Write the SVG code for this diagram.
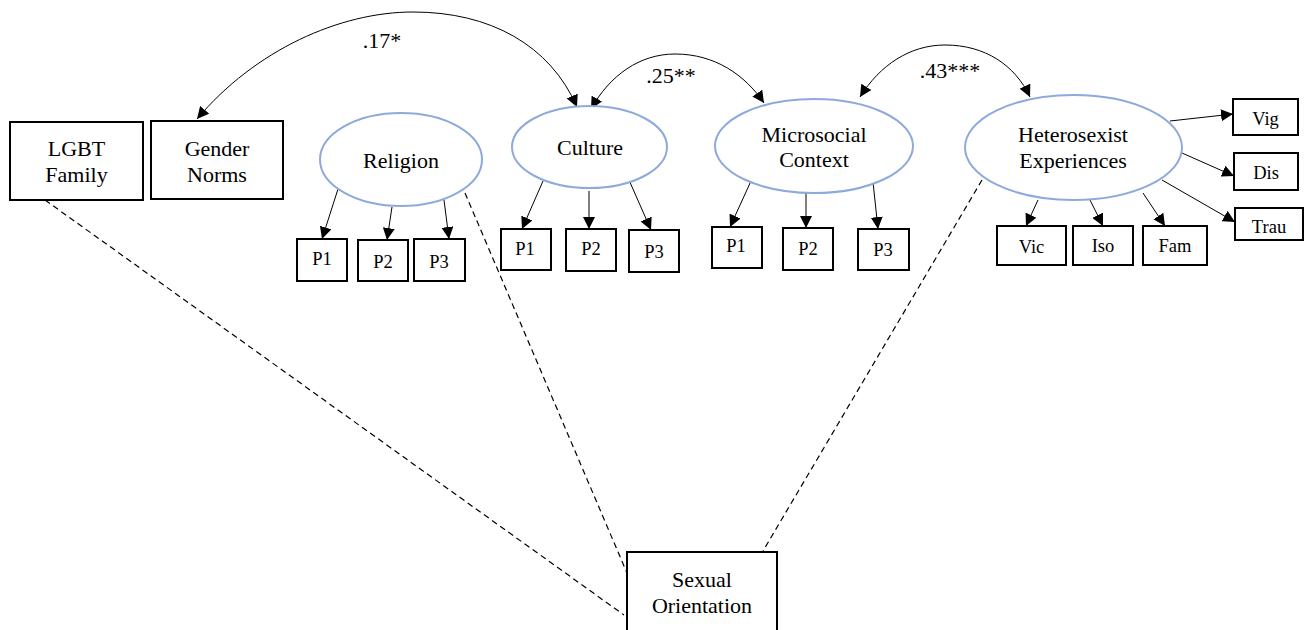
<svg xmlns="http://www.w3.org/2000/svg" width="1306" height="630" viewBox="0 0 1306 630">
<style>
.box{fill:#fff;stroke:#000;stroke-width:2}
.lat{fill:#fff;stroke:#8eaadb;stroke-width:2}
.t{font-family:"Liberation Serif","Times New Roman",serif;font-size:22px;fill:#000;text-anchor:middle}
.s{font-family:"Liberation Serif","Times New Roman",serif;font-size:18.5px;fill:#000;text-anchor:middle}
.c{fill:none;stroke:#000;stroke-width:1}
.a{fill:none;stroke:#000;stroke-width:1;marker-end:url(#ah)}
.cv{fill:none;stroke:#000;stroke-width:1;marker-start:url(#ah);marker-end:url(#ah)}
.d{fill:none;stroke:#000;stroke-width:1.2;stroke-dasharray:6,4}
</style>
<defs>
<marker id="ah" viewBox="0 0 10 10" refX="10" refY="5" markerWidth="12" markerHeight="12" markerUnits="userSpaceOnUse" orient="auto-start-reverse">
<path d="M0,0 L10,5 L0,10 z" fill="#000"/>
</marker>
</defs>
<rect width="1306" height="630" fill="#fff"/>
<g id="connectors">
<path class="d" d="M45,200 L624,615"/>
<path class="d" d="M465,193 L627,573"/>
<path class="d" d="M982,180 L763,551"/>
<path class="cv" d="M197,119 C255,50 340,12 413,12 C490,12 550,45 577,107"/>
<path class="cv" d="M591,109 C610,75 640,54 675,54 C715,54 745,75 764,103"/>
<path class="cv" d="M860,97 C880,65 910,45 945,45 C985,45 1015,65 1030,97"/>
<path class="a" d="M338,189 L322,239"/>
<path class="a" d="M392,207 L387,240"/>
<path class="a" d="M444,200 L449,239"/>
<path class="a" d="M543,181 L522,229"/>
<path class="a" d="M589,191 L589,229"/>
<path class="a" d="M629,180 L651,230"/>
<path class="a" d="M751,181 L730,227"/>
<path class="a" d="M806,193 L806,228"/>
<path class="a" d="M873,182 L878,229"/>
<path class="a" d="M1170,121 L1233,114"/>
<path class="a" d="M1182,153 L1234,176"/>
<path class="a" d="M1162,180 L1235,222"/>
<path class="a" d="M1038,200 L1026,226"/>
<path class="a" d="M1090,200 L1103,226"/>
<path class="a" d="M1143,193 L1165,226"/>
<text class="t" x="382" y="48" font-size="21">.17*</text>
<text class="t" x="671" y="83" font-size="21">.25**</text>
<text class="t" x="950" y="78" font-size="21">.43***</text>
</g>
<g id="lgbt-family"><rect class="box" x="10" y="122" width="133" height="78"/><text class="t" x="76.5" y="156">LGBT</text><text class="t" x="76.5" y="182">Family</text></g>
<g id="gender-norms"><rect class="box" x="151" y="121" width="132" height="78"/><text class="t" x="217" y="156">Gender</text><text class="t" x="217" y="182">Norms</text></g>
<g id="religion"><ellipse class="lat" cx="401" cy="159.5" rx="81" ry="46.5"/><text class="t" x="401" y="168">Religion</text></g>
<g id="religion-p1"><rect class="box" x="297" y="239" width="50" height="42"/><text class="s" x="322" y="265">P1</text></g>
<g id="religion-p2"><rect class="box" x="358" y="240" width="50" height="41"/><text class="s" x="383" y="268">P2</text></g>
<g id="religion-p3"><rect class="box" x="414" y="239" width="51" height="42"/><text class="s" x="439" y="268">P3</text></g>
<g id="culture"><ellipse class="lat" cx="589.5" cy="147" rx="77.5" ry="41"/><text class="t" x="590" y="155">Culture</text></g>
<g id="culture-p1"><rect class="box" x="501" y="229" width="50" height="41"/><text class="s" x="525" y="255">P1</text></g>
<g id="culture-p2"><rect class="box" x="566" y="229" width="50" height="42"/><text class="s" x="591" y="255">P2</text></g>
<g id="culture-p3"><rect class="box" x="629" y="230" width="50" height="42"/><text class="s" x="654" y="258">P3</text></g>
<g id="microsocial"><ellipse class="lat" cx="814" cy="146" rx="99" ry="47"/><text class="t" x="814" y="142">Microsocial</text><text class="t" x="814" y="167">Context</text></g>
<g id="micro-p1"><rect class="box" x="712" y="227" width="50" height="41"/><text class="s" x="736" y="252">P1</text></g>
<g id="micro-p2"><rect class="box" x="783" y="228" width="50" height="42"/><text class="s" x="808" y="255">P2</text></g>
<g id="micro-p3"><rect class="box" x="858" y="229" width="51" height="41"/><text class="s" x="883" y="256">P3</text></g>
<g id="heterosexist"><ellipse class="lat" cx="1073.5" cy="147.5" rx="108.5" ry="52.5"/><text class="t" x="1073" y="142">Heterosexist</text><text class="t" x="1073" y="168">Experiences</text></g>
<g id="vig"><rect class="box" x="1233" y="99" width="65" height="36"/><text class="s" x="1265.5" y="125">Vig</text></g>
<g id="dis"><rect class="box" x="1234" y="153" width="64" height="37"/><text class="s" x="1266" y="179">Dis</text></g>
<g id="trau"><rect class="box" x="1235" y="208" width="68" height="32"/><text class="s" x="1269" y="233">Trau</text></g>
<g id="vic"><rect class="box" x="997" y="226" width="69" height="39"/><text class="s" x="1031.5" y="253">Vic</text></g>
<g id="iso"><rect class="box" x="1073" y="226" width="60" height="39"/><text class="s" x="1103" y="252">Iso</text></g>
<g id="fam"><rect class="box" x="1143" y="226" width="64" height="39"/><text class="s" x="1175" y="252">Fam</text></g>
<g id="sexual-orientation"><rect class="box" x="627" y="552" width="150" height="90"/><text class="t" x="702" y="587">Sexual</text><text class="t" x="702" y="613">Orientation</text></g>
</svg>
